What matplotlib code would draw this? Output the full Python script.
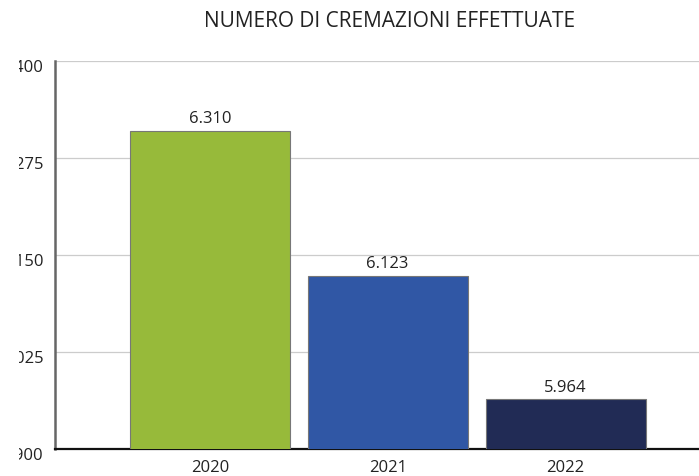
import matplotlib.pyplot as plt
from matplotlib.transforms import Bbox, TransformedBbox, ScaledTranslation

plt.rcParams['font.family'] = ['Open Sans', 'DejaVu Sans']

# Data
years = ['2020', '2021', '2022']
cremazioni = [6310, 6123, 5964]
bar_colors = ['#97ba3a', '#3057a5', '#212b55']
y_ticks = [5900, 6025, 6150, 6275, 6400]
y_labels = ['5.900', '6.025', '6.150', '6.275', '6.400']


def fmt(v):
    return f'{v:,}'.replace(',', '.')


fig = plt.figure(figsize=(6.99, 4.77), dpi=100)
ax = fig.add_axes([0.0787, 0.0566, 0.9213, 0.8134])

x = range(len(years))
bars = ax.bar(x, cremazioni, width=0.9, color=bar_colors,
              edgecolor='#777777', linewidth=0.8, zorder=3)

for b, v in zip(bars, cremazioni):
    ax.text(b.get_x() + b.get_width() / 2, v + 6, fmt(v),
            ha='center', va='bottom', fontsize=12, color='#222222')

ax.set_ylim(5900, 6400)
ax.set_xlim(-0.87, 2.75)
ax.set_yticks(y_ticks)
ax.set_yticklabels(y_labels, fontsize=12, color='#222222')
ax.set_xticks(list(x))
ax.set_xticklabels(years, fontsize=12, color='#222222')
ax.tick_params(axis='both', length=0)
ax.tick_params(axis='y', pad=8.5)
ax.tick_params(axis='x', pad=7)

# the source picture is cut on the left: only the last digits show
clip = TransformedBbox(Bbox([[19 / 699, 0], [0.0787, 1]]), fig.transFigure)
shift = ScaledTranslation(0, -0.04, fig.dpi_scale_trans)
for lab in ax.get_yticklabels():
    lab.set_transform(lab.get_transform() + shift)
    lab.set_clip_on(True)
    lab.set_clip_box(clip)

ax.grid(axis='y', color='#cccccc', linewidth=0.9, zorder=0)
ax.spines['top'].set_visible(False)
ax.spines['right'].set_visible(False)
ax.spines['left'].set_color('#666666')
ax.spines['left'].set_linewidth(1.8)
ax.spines['bottom'].set_color('#111111')
ax.spines['bottom'].set_linewidth(1.6)

fig.text(0.558, 0.955, 'NUMERO DI CREMAZIONI EFFETTUATE', ha='center',
         va='center', fontsize=15, color='#222222')

fig.savefig('out.png', dpi=100)
